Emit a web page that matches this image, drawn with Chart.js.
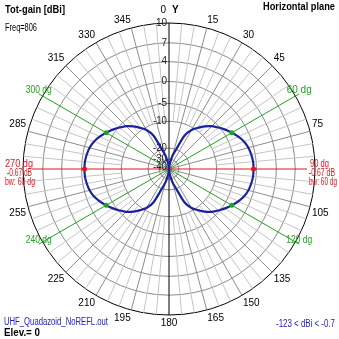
<!DOCTYPE html>
<html>
<head>
<meta charset="utf-8">
<script src="https://cdn.jsdelivr.net/npm/chart.js@4/dist/chart.umd.min.js"></script>
<style>
  html, body { margin: 0; padding: 0; background: #fff; }
  #wrap { width: 339px; height: 339px; position: relative; }
</style>
</head>
<body>
<div id="wrap"><canvas id="pattern"></canvas></div>
<script>
// azimuth (deg, 0 = Y up, clockwise) and total gain in dBi, 5 deg steps
const azimuth = [0, 5, 10, 15, 20, 25, 30, 35, 40, 45, 50, 55, 60, 65, 70, 75, 80, 85,
  90, 95, 100, 105, 110, 115, 120, 125, 130, 135, 140, 145, 150, 155, 160, 165, 170, 175,
  180, 185, 190, 195, 200, 205, 210, 215, 220, 225, 230, 235, 240, 245, 250, 255, 260, 265,
  270, 275, 280, 285, 290, 295, 300, 305, 310, 315, 320, 325, 330, 335, 340, 345, 350, 355];
const gainDbi = [-123, -38, -33, -26, -20, -14, -11, -9.3, -7.8, -6.4, -5.3, -4.3, -3.4, -2.5, -1.7, -1.2, -0.9, -0.7,
  -0.67, -0.7, -0.9, -1.2, -1.7, -2.5, -3.4, -4.3, -5.3, -6.4, -7.8, -9.3, -11, -14, -20, -26, -33, -38,
  -123, -38, -33, -26, -20, -14, -11, -9.3, -7.8, -6.4, -5.3, -4.3, -3.4, -2.5, -1.7, -1.2, -0.9, -0.7,
  -0.67, -0.7, -0.9, -1.2, -1.7, -2.5, -3.4, -4.3, -5.3, -6.4, -7.8, -9.3, -11, -14, -20, -26, -33, -38];

// ring labels of the dB scale
const ringDb = [-40, -30, -20, -10, -5, 0, 4, 7, 10];
// 4nec2 style compressed scale: where each ring sits, as part of the radius
const ringPos = [0.014, 0.068, 0.143, 0.327, 0.449, 0.599, 0.735, 0.864, 1];

// markers: max gain and -3 dB points
const maxAz = [90, 270];
const halfPowerAz = [60, 120, 240, 300];

function toRadius(db) {
  if (db <= ringDb[0]) return Math.max(0, ringPos[0] * (db + 50) / 10);
  for (let i = 1; i < ringDb.length; i++) {
    if (db <= ringDb[i]) {
      const t = (db - ringDb[i - 1]) / (ringDb[i] - ringDb[i - 1]);
      return ringPos[i - 1] + t * (ringPos[i] - ringPos[i - 1]);
    }
  }
  return 1;
}

const FONT = '"Liberation Sans", Arial, sans-serif';
const RED = '#e0141e';
const GREEN = '#21a021';

const overlay = {
  id: 'overlay',
  beforeDatasetsDraw(chart) {
    const s = chart.scales.r;
    const ctx = chart.ctx;
    const R = s.drawingArea;
    const inner = s.getDistanceFromCenterForValue(toRadius(-10));
    ctx.save();
    ctx.lineWidth = 1;
    azimuth.forEach((a, i) => {
      if (a % 90 === 0 || halfPowerAz.includes(a)) return;
      const from = a % 15 === 0 ? 0 : inner;
      const p0 = s.getPointPosition(i, from);
      const p1 = s.getPointPosition(i, R);
      ctx.strokeStyle = a % 15 === 0 ? '#8c8c8c' : '#c4c4c4';
      ctx.beginPath(); ctx.moveTo(p0.x, p0.y); ctx.lineTo(p1.x, p1.y); ctx.stroke();
    });
    // Y axis
    let a = s.getPointPosition(azimuth.indexOf(0), R), b = s.getPointPosition(azimuth.indexOf(180), R);
    ctx.strokeStyle = '#000';
    ctx.beginPath(); ctx.moveTo(a.x, a.y); ctx.lineTo(b.x, b.y); ctx.stroke();
    // -3 dB lines
    ctx.strokeStyle = GREEN;
    halfPowerAz.forEach(az => {
      const p = s.getPointPosition(azimuth.indexOf(az), R * 1.03);
      ctx.beginPath(); ctx.moveTo(s.xCenter, s.yCenter); ctx.lineTo(p.x, p.y); ctx.stroke();
    });
    // max gain line
    ctx.strokeStyle = RED;
    ctx.beginPath(); ctx.moveTo(32, s.yCenter); ctx.lineTo(307, s.yCenter); ctx.stroke();
    // dB ring labels
    ctx.fillStyle = '#222';
    ctx.font = '10px ' + FONT;
    ctx.textAlign = 'right';
    ctx.textBaseline = 'middle';
    ringDb.forEach((db, i) => {
      const d = s.getDistanceFromCenterForValue(ringPos[i]);
      ctx.fillText(String(db), s.xCenter - 2, s.yCenter - d, 14);
    });
    ctx.restore();
  },
  afterDraw(chart) {
    const s = chart.scales.r;
    const ctx = chart.ctx;
    const R = s.drawingArea;
    ctx.save();
    ctx.textBaseline = 'middle';
    ctx.fillStyle = '#000';
    ctx.font = 'bold 11px ' + FONT;
    ctx.textAlign = 'left';
    ctx.fillText('Tot-gain [dBi]', 5, 10, 60);
    ctx.fillText('Elev.= 0', 4, 333, 36);
    ctx.textAlign = 'right';
    ctx.fillText('Horizontal plane', 335, 7, 72);
    ctx.font = '10px ' + FONT;
    ctx.textAlign = 'left';
    ctx.fillText('Freq=806', 5, 28, 32);
    // 0 / Y at top
    const topY = s.yCenter - R - 13;
    ctx.textAlign = 'right';
    ctx.fillText('0', s.xCenter - 3, topY);
    ctx.font = 'bold 10px ' + FONT;
    ctx.textAlign = 'left';
    ctx.fillText('Y', s.xCenter + 3, topY);
    // file + range
    ctx.font = '10px ' + FONT;
    ctx.fillStyle = '#2020c0';
    ctx.textAlign = 'left';
    ctx.fillText('UHF_Quadazoid_NoREFL.out', 4, 322, 104);
    ctx.textAlign = 'right';
    ctx.fillText('-123 < dBi < -0.7', 335, 324, 59);
    // max gain labels
    ctx.font = '10px ' + FONT;
    ctx.fillStyle = RED;
    const maxDb = gainDbi[azimuth.indexOf(90)];
    ctx.textAlign = 'left';
    ctx.fillText('90 dg', 310, s.yCenter - 5, 19);
    ctx.fillText(maxDb + ' dB', 309, s.yCenter + 4, 26);
    ctx.fillText('bw: 60 dg', 309, s.yCenter + 13, 28);
    ctx.fillText('270 dg', 5, s.yCenter - 5, 28);
    ctx.fillText(maxDb + ' dB', 7, s.yCenter + 4, 25);
    ctx.fillText('bw: 60 dg', 5, s.yCenter + 13, 30);
    // -3 dB labels
    ctx.fillStyle = GREEN;
    ctx.textAlign = 'center';
    halfPowerAz.forEach(az => {
      const p = s.getPointPosition(azimuth.indexOf(az), R * 1.03);
      ctx.fillText(az + ' dg', p.x, p.y - 4, 26);
    });
    ctx.restore();
  }
};

const special = azimuth.map(a => maxAz.includes(a) ? RED : (halfPowerAz.includes(a) ? GREEN : null));

new Chart(document.getElementById('pattern'), {
  type: 'radar',
  data: {
    labels: azimuth,
    datasets: [{
      label: 'Tot-gain',
      data: gainDbi.map(toRadius),
      borderColor: '#1a22a0',
      borderWidth: 2.2,
      backgroundColor: 'transparent',
      fill: false,
      tension: 0.3,
      pointRadius: ctx => special[ctx.dataIndex] ? 2.5 : 0,
      pointBackgroundColor: ctx => special[ctx.dataIndex] || '#1a22a0',
      pointBorderWidth: 0
    }]
  },
  options: {
    responsive: true,
    maintainAspectRatio: false,
    devicePixelRatio: 1,
    animation: false,
    layout: { padding: { top: 9, bottom: 10, left: 9, right: 8 } },
    plugins: { legend: { display: false }, tooltip: { enabled: false } },
    scales: {
      r: {
        min: 0,
        max: 1,
        startAngle: 0,
        afterBuildTicks: scale => {
          scale.ticks = [{ value: 0 }].concat(ringPos.map(v => ({ value: v })));
        },
        ticks: { display: false, autoSkip: false },
        grid: {
          circular: true,
          color: ctx => ctx.index === ringPos.length ? '#000' : '#8a8a8a',
          lineWidth: 1
        },
        angleLines: { display: false },
        pointLabels: {
          color: '#000',
          font: { family: FONT, size: 10 },
          padding: 2,
          callback: (lbl, i) => {
            const a = azimuth[i];
            if (a % 15 !== 0 || a === 0 || a === 90 || a === 270 || halfPowerAz.includes(a)) return '';
            return String(a);
          }
        }
      }
    }
  },
  plugins: [overlay]
});
</script>
</body>
</html>
